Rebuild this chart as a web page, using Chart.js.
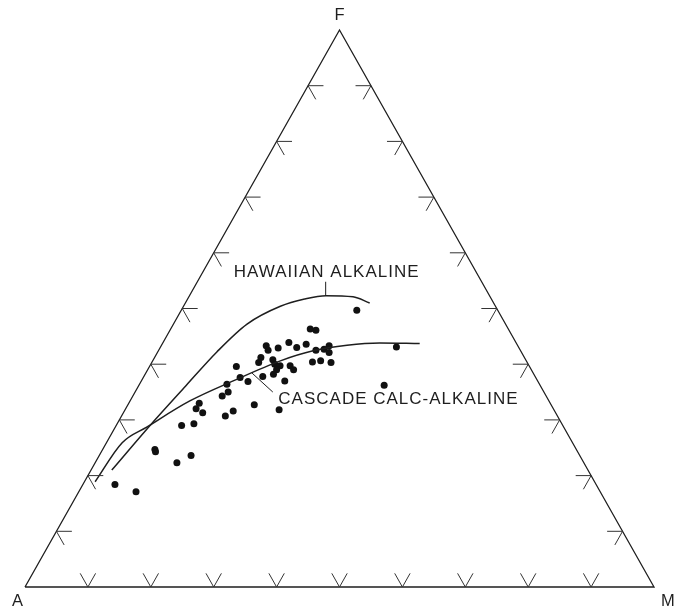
<!DOCTYPE html>
<html>
<head>
<meta charset="utf-8">
<script src="https://cdn.jsdelivr.net/npm/chart.js@4/dist/chart.umd.min.js"></script>
<style>
  html, body { margin: 0; padding: 0; background: #fff; }
  canvas { display: block; }
</style>
</head>
<body>
<canvas id="afm" width="675" height="607"></canvas>
<script>
// AFM ternary diagram: A = alkalis, F = FeO*, M = MgO (weight %, A = 100 - F - M)
const vertexNames = ['A', 'F', 'M'];
const tickSteps = [10, 20, 30, 40, 50, 60, 70, 80, 90];

// Analysed samples
const sampleF = [49.7, 46.3, 46.1, 43.3, 42.5, 42.9, 43.9, 43.0, 43.6, 42.5,
                 42.7, 43.3, 42.1, 43.1, 41.2, 40.3, 40.8, 40.0, 39.7, 39.7,
                 39.0, 39.0, 38.2, 40.4, 40.6, 40.3, 39.6, 37.6, 36.9, 37.8,
                 37.0, 36.4, 35.0, 34.3, 36.2, 32.7, 31.8, 31.6, 30.7, 33.0,
                 32.0, 31.3, 29.0, 29.3, 24.7, 24.3, 23.6, 22.3, 18.4, 17.1];
const sampleM = [27.9, 22.2, 23.2, 16.7, 17.4, 18.8, 20.0, 21.7, 22.9, 25.0,
                 26.2, 26.7, 27.3, 37.5, 16.9, 17.0, 19.0, 19.7, 20.7, 22.3,
                 23.2, 20.5, 20.4, 25.5, 26.7, 28.5, 13.8, 15.4, 17.0, 18.9,
                 22.8, 13.9, 14.8, 14.2, 39.0, 20.1, 24.5, 17.3, 16.5, 11.2,
                 11.2, 12.6, 10.4, 12.2, 8.3, 8.6, 14.6, 13.0, 5.1, 9.1];

// Differentiation trends
const hawaiianF = [21.0, 29.1, 36.1, 42.2, 47.2, 50.4, 51.7, 52.3, 52.1, 51.0];
const hawaiianM = [3.3, 5.4, 7.5, 9.4, 11.7, 15.4, 18.6, 21.7, 26.1, 29.3];
const cascadeF = [18.9, 25.9, 28.7, 33.4, 37.0, 40.6, 42.4, 43.4, 43.8, 43.7];
const cascadeM = [1.7, 2.5, 5.0, 9.5, 14.6, 20.3, 24.6, 29.5, 34.5, 40.9];

// Trend labels and their leader lines (start on the curve, end at the text)
const trendNames = ['HAWAIIAN ALKALINE', 'CASCADE CALC-ALKALINE'];
const leaderStartF = [52.4, 38.4];
const leaderStartM = [21.6, 16.9];
const leaderEndF = [54.8, 35.0];
const leaderEndM = [20.4, 21.9];

// Ternary (F, M) -> plotting plane: A at (0,0), M at (100,0), F at (50,100)
function toXY(f, m) { return { x: m + f / 2, y: f }; }
function series(fs, ms) { return fs.map((f, i) => toXY(f, ms[i])); }

const INK = '#1e1e1e';
const LABEL_FONT = '17px "Liberation Sans", Arial, Helvetica, sans-serif';

const ternaryDecor = {
  id: 'ternaryDecor',
  afterDatasetsDraw(chart) {
    const ctx = chart.ctx;
    const sx = chart.scales.x, sy = chart.scales.y;
    const px = (f, m) => { const p = toXY(f, m); return [sx.getPixelForValue(p.x), sy.getPixelForValue(p.y)]; };
    const seg = (a, b) => { ctx.moveTo(a[0], a[1]); ctx.lineTo(b[0], b[1]); };
    const d = 2.45;

    ctx.save();
    // Tick marks: two short arms on each side, parallel to the other two sides
    ctx.strokeStyle = '#333';
    ctx.lineWidth = 1;
    ctx.beginPath();
    tickSteps.forEach(t => {
      // base A-M (F = 0)
      const b = px(0, t);
      seg(b, px(d, t));
      seg(b, px(d, t - d));
      // left side A-F (M = 0)
      const l = px(t, 0);
      seg(l, px(t, d));
      seg(l, px(t - d, d));
      // right side F-M (A = 0)
      const r = px(t, 100 - t);
      seg(r, px(t, 100 - t - d));
      seg(r, px(t - d, 100 - t));
    });
    ctx.stroke();

    // Leader lines
    ctx.strokeStyle = INK;
    ctx.lineWidth = 1;
    ctx.beginPath();
    trendNames.forEach((n, i) => {
      seg(px(leaderStartF[i], leaderStartM[i]), px(leaderEndF[i], leaderEndM[i]));
    });
    ctx.stroke();

    // Trend labels
    ctx.fillStyle = INK;
    ctx.font = LABEL_FONT;
    ctx.letterSpacing = '1px';
    ctx.textBaseline = 'alphabetic';
    const e0 = px(leaderEndF[0], leaderEndM[0]);
    ctx.textAlign = 'center';
    ctx.fillText(trendNames[0], e0[0] + 1, e0[1] - 4.5);
    const e1 = px(leaderEndF[1], leaderEndM[1]);
    ctx.textAlign = 'left';
    ctx.fillText(trendNames[1], e1[0] + 5.5, e1[1] + 12);

    // Vertex labels
    ctx.letterSpacing = '0px';
    ctx.font = '16.5px "Liberation Sans", Arial, Helvetica, sans-serif';
    const vA = px(0, 0), vF = px(100, 0), vM = px(0, 100);
    ctx.textAlign = 'center';
    ctx.fillText(vertexNames[1], vF[0], vF[1] - 10);
    ctx.textAlign = 'right';
    ctx.fillText(vertexNames[0], vA[0] - 2, vA[1] + 19);
    ctx.textAlign = 'left';
    ctx.fillText(vertexNames[2], vM[0] + 7, vM[1] + 19);
    ctx.restore();
  }
};

new Chart(document.getElementById('afm'), {
  type: 'scatter',
  data: {
    datasets: [
      {
        label: 'outline',
        data: [toXY(0, 0), toXY(0, 100), toXY(100, 0), toXY(0, 0)],
        showLine: true, borderColor: INK, borderWidth: 1.3,
        pointRadius: 0, tension: 0, fill: false
      },
      {
        label: trendNames[0],
        data: series(hawaiianF, hawaiianM),
        showLine: true, borderColor: INK, borderWidth: 1.5,
        pointRadius: 0, cubicInterpolationMode: 'monotone', fill: false
      },
      {
        label: trendNames[1],
        data: series(cascadeF, cascadeM),
        showLine: true, borderColor: INK, borderWidth: 1.5,
        pointRadius: 0, cubicInterpolationMode: 'monotone', fill: false
      },
      {
        label: 'samples',
        data: series(sampleF, sampleM),
        showLine: false, pointRadius: 3.5, pointBorderWidth: 0,
        backgroundColor: '#111', borderColor: '#111'
      }
    ]
  },
  options: {
    responsive: false,
    animation: false,
    devicePixelRatio: 1,
    clip: false,
    layout: { padding: { left: 25, right: 21, top: 30, bottom: 20 } },
    scales: {
      x: { type: 'linear', min: 0, max: 100, display: false },
      y: { type: 'linear', min: 0, max: 100, display: false }
    },
    plugins: {
      legend: { display: false },
      tooltip: { enabled: false }
    },
    events: []
  },
  plugins: [ternaryDecor]
});
</script>
</body>
</html>
